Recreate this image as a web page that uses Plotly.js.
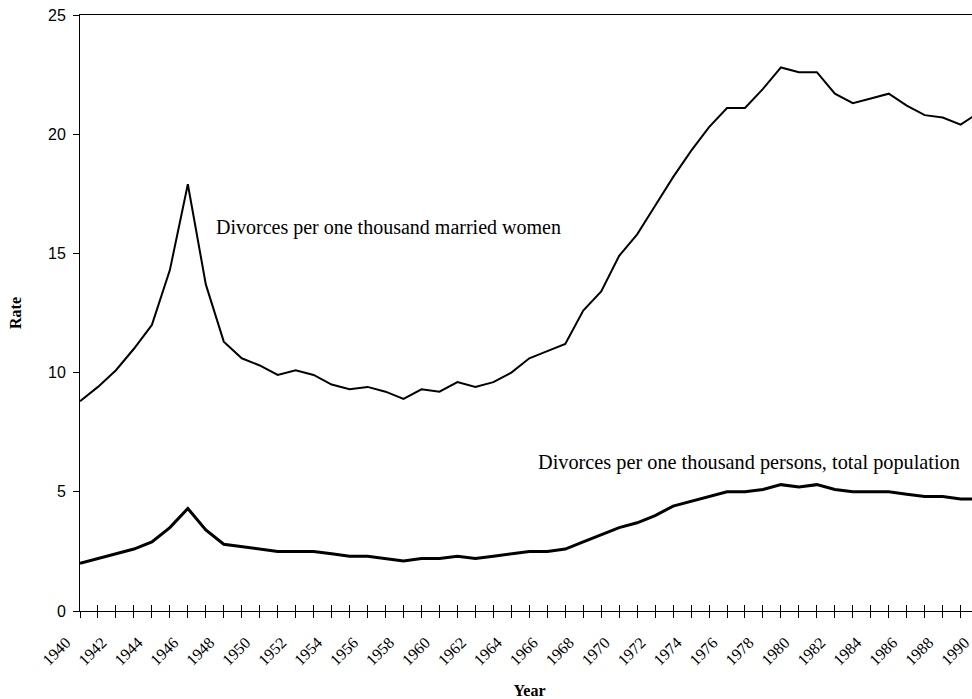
<!DOCTYPE html>
<html>
<head>
<meta charset="utf-8">
<script src="https://cdn.plot.ly/plotly-3.0.1.min.js"></script>
<style>
  html, body { margin: 0; padding: 0; background: #fff; overflow: hidden; }
  #chart { width: 985px; height: 699px; }
</style>
</head>
<body>
<div id="chart"></div>
<script>
const years = [1940,1941,1942,1943,1944,1945,1946,1947,1948,1949,
               1950,1951,1952,1953,1954,1955,1956,1957,1958,1959,
               1960,1961,1962,1963,1964,1965,1966,1967,1968,1969,
               1970,1971,1972,1973,1974,1975,1976,1977,1978,1979,
               1980,1981,1982,1983,1984,1985,1986,1987,1988,1989,1990];

const marriedWomenRate = [8.8,9.4,10.1,11.0,12.0,14.3,17.9,13.7,11.3,10.6,
                          10.3,9.9,10.1,9.9,9.5,9.3,9.4,9.2,8.9,9.3,
                          9.2,9.6,9.4,9.6,10.0,10.6,10.9,11.2,12.6,13.4,
                          14.9,15.8,17.0,18.2,19.3,20.3,21.1,21.1,21.9,22.8,
                          22.6,22.6,21.7,21.3,21.5,21.7,21.2,20.8,20.7,20.4,20.9];

const totalPopulationRate = [2.0,2.2,2.4,2.6,2.9,3.5,4.3,3.4,2.8,2.7,
                             2.6,2.5,2.5,2.5,2.4,2.3,2.3,2.2,2.1,2.2,
                             2.2,2.3,2.2,2.3,2.4,2.5,2.5,2.6,2.9,3.2,
                             3.5,3.7,4.0,4.4,4.6,4.8,5.0,5.0,5.1,5.3,
                             5.2,5.3,5.1,5.0,5.0,5.0,4.9,4.8,4.8,4.7,4.7];

const yTickVals = [0,5,10,15,20,25];
const xTickText = years.map(y => (y % 2 === 0 ? String(y) : ''));

const labelWomen = 'Divorces per one thousand married women';
const labelPopulation = 'Divorces per one thousand persons, total population';

const serif = 'Liberation Serif, Times New Roman, serif';
const sans = 'Liberation Sans, Arial, sans-serif';

const traces = [
  {
    x: years, y: marriedWomenRate, type: 'scatter', mode: 'lines',
    line: { color: '#000', width: 2 }, xaxis: 'x', yaxis: 'y',
    name: labelWomen, showlegend: false, hoverinfo: 'x+y'
  },
  {
    x: years, y: totalPopulationRate, type: 'scatter', mode: 'lines',
    line: { color: '#000', width: 3 }, xaxis: 'x2', yaxis: 'y',
    name: labelPopulation, showlegend: false, hoverinfo: 'x+y'
  }
];

const layout = {
  width: 985, height: 699,
  margin: { l: 80, r: 6, t: 15, b: 88, pad: 0 },
  paper_bgcolor: '#fff', plot_bgcolor: '#fff',
  showlegend: false,
  xaxis: {
    range: [1940, 1990.02], tickmode: 'array', tickvals: years, ticktext: xTickText,
    tickangle: -45, ticks: 'outside', ticklen: 6, tickwidth: 1, tickcolor: '#000',
    ticklabelstandoff: 9, ticklabelshift: -14,
    showline: true, linecolor: '#000', linewidth: 1, mirror: true,
    showgrid: false, zeroline: false, automargin: false,
    tickfont: { family: serif, size: 16, color: '#000' },
    title: { text: '<b>Year</b>', font: { family: serif, size: 16, color: '#000' }, standoff: 25 }
  },
  xaxis2: {
    overlaying: 'x', matches: 'x', anchor: 'y', side: 'bottom',
    range: [1940, 1990.02], tickmode: 'array', tickvals: years,
    ticks: 'inside', ticklen: 6, tickwidth: 1, tickcolor: '#000',
    showticklabels: false, showline: false, showgrid: false, zeroline: false
  },
  yaxis: {
    range: [0, 25], tickmode: 'array', tickvals: yTickVals,
    ticks: 'outside', ticklen: 6, tickwidth: 1, tickcolor: '#000',
    ticklabelstandoff: 4,
    showline: true, linecolor: '#000', linewidth: 1,
    showgrid: false, zeroline: false, automargin: false,
    tickfont: { family: sans, size: 16, color: '#000' },
    title: { text: '<b>Rate</b>', font: { family: serif, size: 16, color: '#000' }, standoff: 22 }
  },
  annotations: [
    {
      x: 1947.45, y: 16.1, xref: 'x', yref: 'y', text: labelWomen,
      showarrow: false, xanchor: 'left', yanchor: 'middle',
      font: { family: serif, size: 20, color: '#000' }
    },
    {
      x: 1965.35, y: 6.25, xref: 'x', yref: 'y', text: labelPopulation,
      showarrow: false, xanchor: 'left', yanchor: 'middle',
      font: { family: serif, size: 20.3, color: '#000' }
    }
  ]
};

Plotly.newPlot('chart', traces, layout, { staticPlot: true, displayModeBar: false });
</script>
</body>
</html>
